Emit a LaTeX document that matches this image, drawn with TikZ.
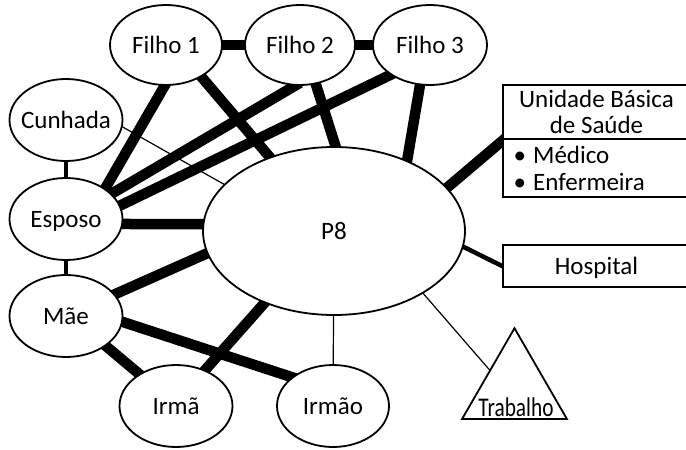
\documentclass[tikz,border=0pt]{standalone}
\usepackage{fontspec}
\usepackage{graphicx}
\setmainfont{Carlito}
\usetikzlibrary{shapes.geometric,backgrounds}
% keeps long names from widening the ellipses
\newcommand\tightlabel[1]{\makebox[0pt]{#1}}
\begin{document}
\begin{tikzpicture}[x=1pt,y=-1pt,
  every node/.style={font=\fontsize{25}{27}\selectfont, text=black},
  person/.style={ellipse, draw, line width=1.8pt, fill=white, inner sep=0pt,
    minimum width=113pt, minimum height=82pt, text height=16.1pt, text depth=0pt},
  place/.style={rectangle, draw, line width=1.8pt, fill=white, inner sep=0pt,
    minimum width=187pt, text height=16.1pt, text depth=0pt},
  strong/.style={line width=10.5pt, shorten <=-6pt, shorten >=-6pt},
  medium/.style={line width=4.5pt, shorten <=-3pt, shorten >=-3pt},
  weak/.style={line width=1.2pt, shorten <=-2pt, shorten >=-2pt},
]
\useasboundingbox (0,0) rectangle (686,450);

% people
\node[person, minimum width=112pt, minimum height=80pt] (f1) at (166,45) {\tightlabel{Filho 1}};
\node[person, minimum width=110pt, minimum height=80pt] (f2) at (300,45) {\tightlabel{Filho 2}};
\node[person, minimum width=114pt, minimum height=80pt] (f3) at (430,45) {\tightlabel{Filho 3}};
\node[person] (cun) at (66,120) {\tightlabel{Cunhada}};
\node[person] (esp) at (66,219) {\tightlabel{Esposo}};
\node[person] (mae) at (66,316) {\tightlabel{Mãe}};
\node[person] (irma) at (176,406) {\tightlabel{Irmã}};
\node[person, minimum width=112pt] (irmao) at (333,406) {\tightlabel{Irmão}};
\node[person, minimum width=262pt, minimum height=168pt] (p8) at (334,231) {P8};

% services
\node[place, minimum height=112pt] (ubs) at (596.5,141) {};
\path (ubs.north west) ++(0,54.9) coordinate (ubsdiv);
\draw[line width=1.8pt] (ubsdiv) -- (ubsdiv -| ubs.east);
\node[anchor=base] (ubsa) at (596.5,107) {Unidade Básica};
\node[anchor=base] (ubsb) at (596.5,133) {de Saúde};
\node[anchor=base west, inner sep=0pt] (ubsc) at (513.5,163) {•\hspace{7pt}Médico};
\node[anchor=base west, inner sep=0pt] (ubsd) at (513.5,190) {•\hspace{7pt}Enfermeira};
\node[place, minimum height=42pt] (hosp) at (596.5,266) {Hospital};

% work
\node[regular polygon, regular polygon sides=3, draw, line width=1.8pt, fill=white,
  minimum size=121pt, inner sep=0pt] (trab) at (514.5,388.7) {};
\node[anchor=base, inner sep=0pt, font=\fontsize{27}{29}\selectfont] (trabtxt) at (516,416.5) {\scalebox{0.79}[1]{Trabalho}};

% ties
\begin{scope}[on background layer]
\draw[strong] (f1) -- (f2);
\draw[strong] (f2) -- (f3);
\draw[strong] (f1.-92) -- (esp.38);
\draw[strong] (f1.-42) -- (p8.131);
\draw[strong] (f2.-97) -- (esp.29);
\draw[strong] (f2.-68) -- (p8.89);
\draw[strong] (f3.-143) -- (esp.14);
\draw[strong] (f3.-104) -- (p8.44);
\draw[weak] (cun.-7) -- (p8.157);
\draw[medium] (cun) -- (esp);
\draw[strong] (esp.-5) -- (p8.177);
\draw[medium] (esp) -- (mae);
\draw[strong] (mae.24) -- (p8.190);
\draw[strong] (mae.-37) -- (irma.139);
\draw[strong] (mae.-6) -- (irmao.145);
\draw[strong] (irma.51) -- (p8.226);
\draw[weak] (irmao) -- (p8);
\draw[strong] (p8.21) -- (ubs.west);
\draw[medium] (p8.-7) -- (hosp.west);
\draw[weak] (p8.-35) -- (trab.143);
\end{scope}
\end{tikzpicture}
\end{document}
